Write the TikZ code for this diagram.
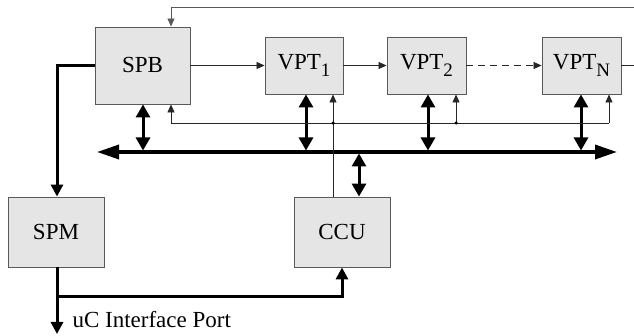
\documentclass[tikz,border=0pt]{standalone}
\usepackage{fontspec}
\setmainfont{Liberation Serif}
\usetikzlibrary{arrows.meta}
\tikzset{
  blk/.style={draw=black!65, fill=black!10, line width=0.9pt, inner sep=0pt,
    font=\fontsize{23}{23}\selectfont},
  thinln/.style={line width=0.8pt, draw=black!85},
  thinarr/.style={thinln, -{Triangle[length=8pt,width=7pt]}},
  thk/.style={line width=3pt, line join=miter},
  thkarr/.style={thk, -{Triangle[length=12pt,width=12pt]}},
  dbl/.style={line width=3pt, {Triangle[length=13pt,width=14pt]}-{Triangle[length=13pt,width=14pt]}},
  busln/.style={line width=3.5pt, {Triangle[length=22pt,width=14pt]}-{Triangle[length=22pt,width=14pt]}},
  dotc/.style={circle, fill=black, inner sep=0pt, minimum size=3.5pt},
}
\newcommand{\vsub}[1]{\raisebox{-0.32em}{\fontsize{19}{19}\selectfont #1}}
\begin{document}
\begin{tikzpicture}[x=1pt,y=-1pt]
\useasboundingbox (0,0) rectangle (634,336);
% blocks
\node[blk, minimum width=95pt, minimum height=77pt] (SPB) at (142.5,65.5) {SPB};
\node[blk, minimum width=78pt, minimum height=57pt] (VPT1) at (304,65.5) {VPT\vsub{1}};
\node[blk, minimum width=79pt, minimum height=57pt] (VPT2) at (426.5,65.5) {VPT\vsub{2}};
\node[blk, minimum width=79pt, minimum height=57pt] (VPTN) at (581.5,65.5) {VPT\vsub{N}};
\node[blk, minimum width=96pt, minimum height=70pt] (SPM) at (56,232) {SPM};
\node[blk, minimum width=96pt, minimum height=70pt] (CCU) at (342,232) {CCU};
% coordinates
\coordinate (topR) at (634,7);
\coordinate (fb) at (171,7);
\coordinate (outR) at (634,65.5);
\coordinate (busL) at (97,152);
\coordinate (busR) at (617,152);
\coordinate (ctlL) at (171,123);
\coordinate (ctl1) at (333,123);
\coordinate (ctl2) at (456,123);
\coordinate (ctlR) at (609,123);
\coordinate (jn) at (57,297);
\coordinate (port) at (57,334);
% bus
\draw[busln] (busL) -- (busR);
% thick bidirectional arrows
\draw[dbl] (143,150.5) -- (SPB.south -| 143,0);
\draw[dbl] (VPT1.south -| 306,0) -- (306,150.5);
\draw[dbl] (VPT2.south -| 428,0) -- (428,150.5);
\draw[dbl] (VPTN.south -| 581,0) -- (581,150.5);
\draw[dbl] (359,153.5) -- (CCU.north -| 359,0);
% top feedback
\draw[thinln, draw=black!65] (topR) -- (fb);
\draw[thinarr, draw=black!65, fill=black!65] (fb) -- (fb |- SPB.north);
% chain
\draw[thinarr] (SPB.east) -- (VPT1.west);
\draw[thinarr] (VPT1.east) -- (VPT2.west);
\draw[thinarr, dash pattern=on 7pt off 5pt] (VPT2.east) -- (VPTN.west);
\draw[thinln] (VPTN.east) -- (outR);
% control line
\draw[thinln] (ctlL) -- (ctlR);
\draw[thinarr] (ctlL) -- (ctlL |- SPB.south);
\draw[thinarr] (ctl2) -- (ctl2 |- VPT2.south);
\draw[thinarr] (ctlR) -- (ctlR |- VPTN.south);
\draw[thinarr] (ctl1 |- CCU.north) -- (ctl1 |- VPT1.south);
\node[dotc] (d1) at (ctl1) {};
\node[dotc] (d2) at (ctl2) {};
% SPM paths
\draw[thkarr] (SPB.west) -| (SPM.north -| 57,0);
\draw[thkarr] (SPM.south -| 57,0) -- (port);
\draw[thkarr] (jn) -| (CCU.south);
\node[anchor=base west, font=\fontsize{23}{23}\selectfont] (lbl) at (69,327) {uC Interface Port};
\end{tikzpicture}
\end{document}
